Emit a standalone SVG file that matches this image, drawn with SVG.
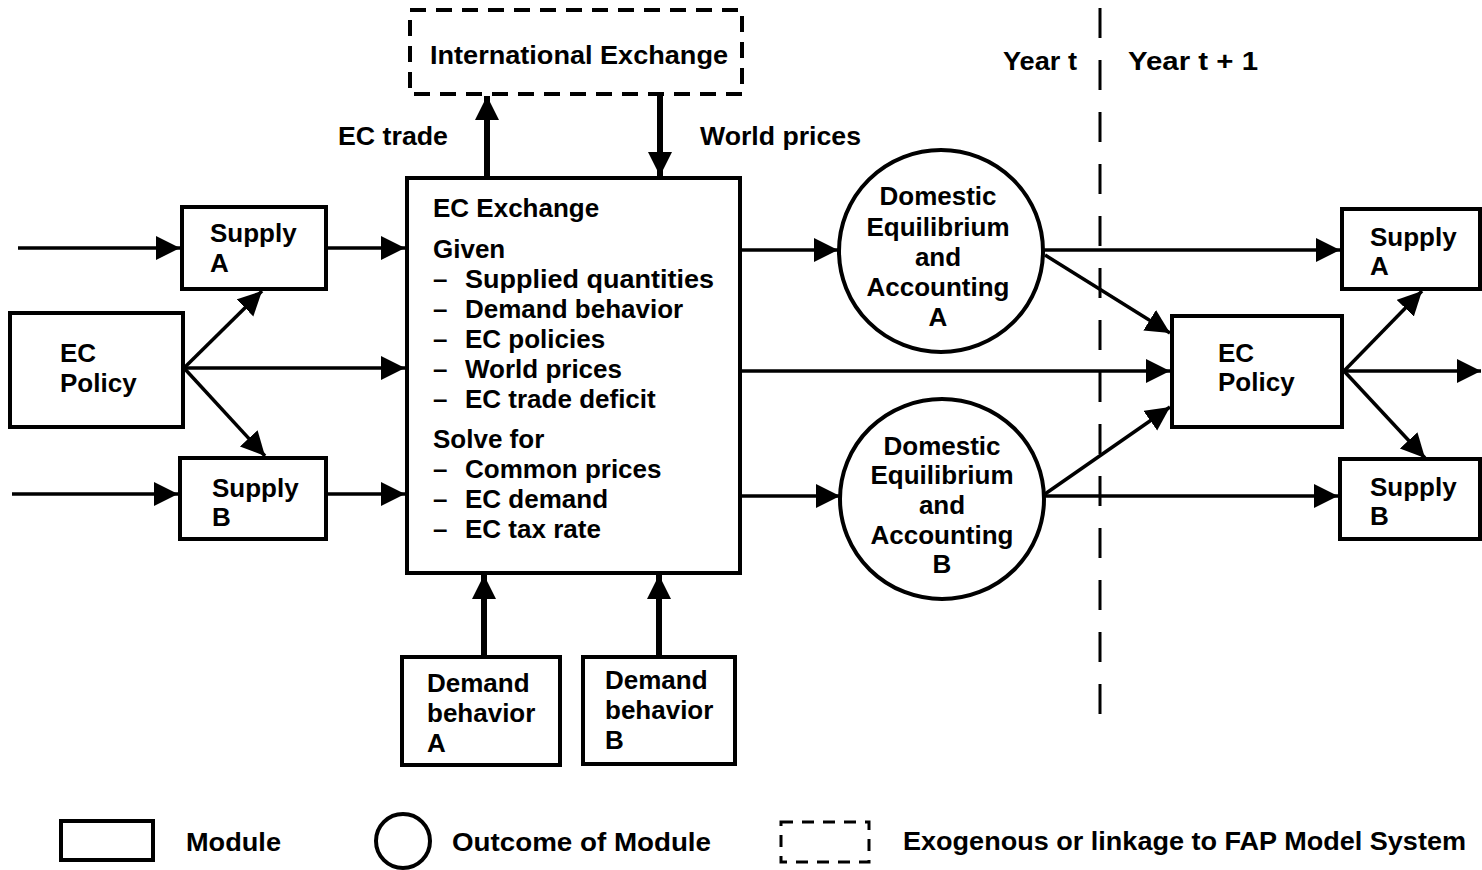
<svg xmlns="http://www.w3.org/2000/svg" width="1482" height="870" viewBox="0 0 1482 870">
<defs>
<marker id="ah" markerUnits="userSpaceOnUse" markerWidth="26" markerHeight="26" refX="24" refY="12" orient="auto">
<path d="M0,0 L24,12 L0,24 z" fill="#000"/>
</marker>
<style>
.box{fill:#fff;stroke:#000;stroke-width:4}
.dash{fill:none;stroke:#000;stroke-width:4;stroke-dasharray:16 10}
.circ{fill:#fff;stroke:#000;stroke-width:4}
.t{font-family:"Liberation Sans",Arial,sans-serif;font-weight:bold;font-size:26px;fill:#000}
.c{text-anchor:middle}
.ln{stroke:#000;stroke-width:3.5;fill:none;marker-end:url(#ah)}
.lnb{stroke:#000;stroke-width:6;fill:none;marker-end:url(#ah)}
</style>
</defs>
<rect width="1482" height="870" fill="#fff"/>

<g id="connectors">
<line class="lnb" x1="487" y1="178" x2="487" y2="96"/>
<line class="lnb" x1="660" y1="94" x2="660" y2="176"/>
<line class="ln" x1="18" y1="248" x2="180" y2="248"/>
<line class="ln" x1="326" y1="248" x2="405" y2="248"/>
<line class="ln" x1="12" y1="494" x2="178" y2="494"/>
<line class="ln" x1="326" y1="494" x2="405" y2="494"/>
<line class="ln" x1="184" y1="368" x2="262" y2="291"/>
<line class="ln" x1="184" y1="368" x2="405" y2="368"/>
<line class="ln" x1="184" y1="368" x2="265" y2="456"/>
<line class="lnb" x1="484" y1="657" x2="484" y2="575"/>
<line class="lnb" x1="659" y1="657" x2="659" y2="575"/>
<line class="ln" x1="740" y1="250" x2="838" y2="250"/>
<line class="ln" x1="740" y1="496" x2="840" y2="496"/>
<line class="ln" x1="740" y1="371" x2="1170" y2="371"/>
<line class="ln" x1="1043" y1="250" x2="1340" y2="250"/>
<line class="ln" x1="1045" y1="255" x2="1170" y2="333"/>
<line class="ln" x1="1045" y1="494" x2="1170" y2="407"/>
<line class="ln" x1="1045" y1="496" x2="1338" y2="496"/>
<line class="ln" x1="1344" y1="371" x2="1422" y2="291"/>
<line class="ln" x1="1344" y1="371" x2="1481" y2="371"/>
<line class="ln" x1="1344" y1="371" x2="1425" y2="458"/>
<line x1="1100" y1="8" x2="1100" y2="718" stroke="#000" stroke-width="3" stroke-dasharray="30 22"/>
</g>

<g id="intl-exchange">
<rect class="dash" x="410" y="10" width="332" height="84"/>
<text class="t" x="430" y="64" textLength="298" lengthAdjust="spacingAndGlyphs">International Exchange</text>
</g>
<g id="label-ec-trade"><text class="t" x="338" y="145" textLength="110" lengthAdjust="spacingAndGlyphs">EC trade</text></g>
<g id="label-world-prices"><text class="t" x="700" y="145" textLength="161" lengthAdjust="spacingAndGlyphs">World prices</text></g>

<g id="supply-a-left">
<rect class="box" x="182" y="207" width="144" height="82"/>
<text class="t" x="210" y="242">Supply</text>
<text class="t" x="210" y="272">A</text>
</g>
<g id="ec-policy-left">
<rect class="box" x="10" y="313" width="173" height="114"/>
<text class="t" x="60" y="362">EC</text>
<text class="t" x="60" y="392">Policy</text>
</g>
<g id="supply-b-left">
<rect class="box" x="180" y="458" width="146" height="81"/>
<text class="t" x="212" y="497">Supply</text>
<text class="t" x="212" y="526">B</text>
</g>

<g id="ec-exchange">
<rect class="box" x="407" y="178" width="333" height="395"/>
<text class="t" x="433" y="217">EC Exchange</text>
<text class="t" x="433" y="258">Given</text>
<text class="t" x="433" y="288">–</text><text class="t" x="465" y="288" textLength="249" lengthAdjust="spacingAndGlyphs">Supplied quantities</text>
<text class="t" x="433" y="318">–</text><text class="t" x="465" y="318">Demand behavior</text>
<text class="t" x="433" y="348">–</text><text class="t" x="465" y="348">EC policies</text>
<text class="t" x="433" y="378">–</text><text class="t" x="465" y="378">World prices</text>
<text class="t" x="433" y="408">–</text><text class="t" x="465" y="408">EC trade deficit</text>
<text class="t" x="433" y="448">Solve for</text>
<text class="t" x="433" y="478">–</text><text class="t" x="465" y="478">Common prices</text>
<text class="t" x="433" y="508">–</text><text class="t" x="465" y="508">EC demand</text>
<text class="t" x="433" y="538">–</text><text class="t" x="465" y="538">EC tax rate</text>
</g>

<g id="demand-a">
<rect class="box" x="402" y="657" width="158" height="108"/>
<text class="t" x="427" y="692">Demand</text>
<text class="t" x="427" y="722">behavior</text>
<text class="t" x="427" y="752">A</text>
</g>
<g id="demand-b">
<rect class="box" x="583" y="657" width="152" height="107"/>
<text class="t" x="605" y="689">Demand</text>
<text class="t" x="605" y="719">behavior</text>
<text class="t" x="605" y="749">B</text>
</g>

<g id="dom-eq-a">
<ellipse class="circ" cx="941" cy="251" rx="102" ry="101"/>
<text class="t c" x="938" y="205">Domestic</text>
<text class="t c" x="938" y="236">Equilibrium</text>
<text class="t c" x="938" y="266">and</text>
<text class="t c" x="938" y="296">Accounting</text>
<text class="t c" x="938" y="326">A</text>
</g>
<g id="dom-eq-b">
<ellipse class="circ" cx="942" cy="499" rx="102" ry="100"/>
<text class="t c" x="942" y="455">Domestic</text>
<text class="t c" x="942" y="484">Equilibrium</text>
<text class="t c" x="942" y="514">and</text>
<text class="t c" x="942" y="544">Accounting</text>
<text class="t c" x="942" y="573">B</text>
</g>

<g id="year-labels">
<text class="t" x="1003" y="70" textLength="74" lengthAdjust="spacingAndGlyphs">Year t</text>
<text class="t" x="1128" y="70" textLength="130" lengthAdjust="spacingAndGlyphs">Year t + 1</text>
</g>

<g id="ec-policy-right">
<rect class="box" x="1172" y="316" width="170" height="111"/>
<text class="t" x="1218" y="362">EC</text>
<text class="t" x="1218" y="391">Policy</text>
</g>
<g id="supply-a-right">
<rect class="box" x="1342" y="209" width="138" height="80"/>
<text class="t" x="1370" y="246">Supply</text>
<text class="t" x="1370" y="275">A</text>
</g>
<g id="supply-b-right">
<rect class="box" x="1340" y="459" width="140" height="80"/>
<text class="t" x="1370" y="496">Supply</text>
<text class="t" x="1370" y="525">B</text>
</g>

<g id="legend">
<rect class="box" x="61" y="821" width="92" height="39"/>
<text class="t" x="186" y="851" textLength="95" lengthAdjust="spacingAndGlyphs">Module</text>
<ellipse class="circ" cx="403" cy="841" rx="27" ry="27"/>
<text class="t" x="452" y="851" textLength="259" lengthAdjust="spacingAndGlyphs">Outcome of Module</text>
<rect class="dash" x="781" y="822" width="88" height="40" style="stroke-width:3;stroke-dasharray:12 9"/>
<text class="t" x="903" y="850" textLength="563" lengthAdjust="spacingAndGlyphs">Exogenous or linkage to FAP Model System</text>
</g>
</svg>
